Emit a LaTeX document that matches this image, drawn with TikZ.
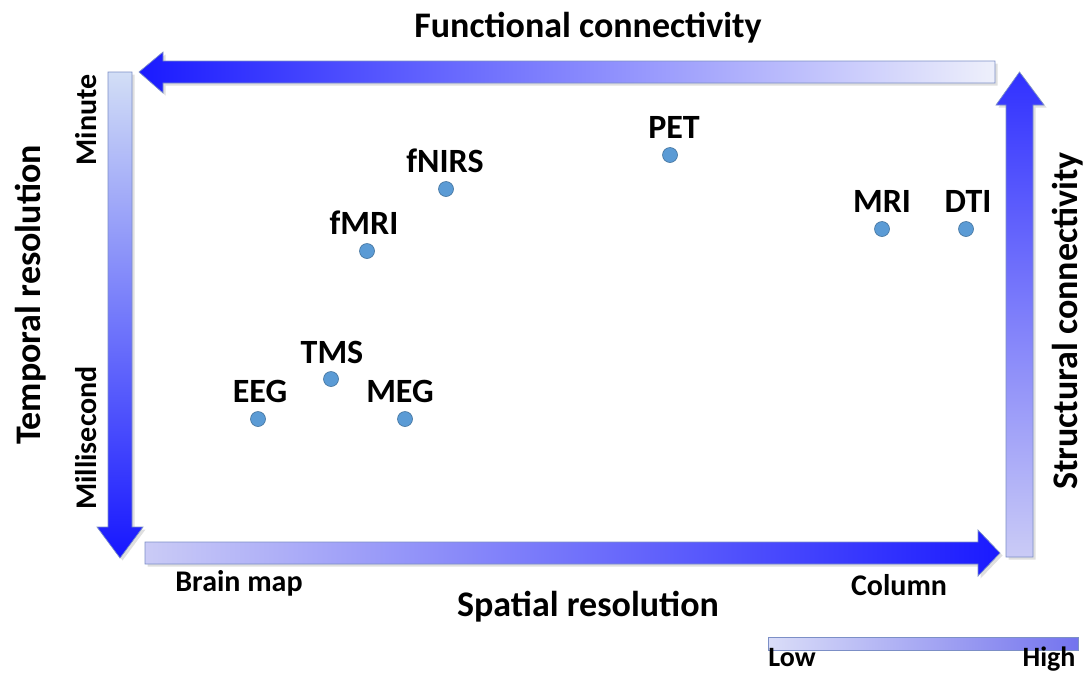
\documentclass[tikz,border=0pt]{standalone}
\usepackage{fontspec}
\setmainfont{Carlito}
\usetikzlibrary{shadows}

\definecolor{dotblue}{HTML}{5B9BD5}
\definecolor{dotedge}{HTML}{41719C}
\definecolor{deepblue}{HTML}{1A1AFF}
\definecolor{paleblue}{HTML}{EEF0FB}
\definecolor{lightblue}{HTML}{D2DEF6}
\definecolor{lavender}{HTML}{CACBF6}
\definecolor{edgeblue}{HTML}{7C8FC6}
\definecolor{legendlow}{HTML}{DADDF8}
\definecolor{legendhigh}{HTML}{7373EE}

\begin{document}
\begin{tikzpicture}[x=1pt,y=-1pt,
  dot/.style={circle, fill=dotblue, draw=dotedge, line width=0.6pt,
    minimum size=15pt, inner sep=0pt},
  tech/.style={font=\bfseries\fontsize{34}{34}\selectfont, inner sep=0pt, anchor=base},
  axislabel/.style={font=\bfseries\fontsize{36}{36}\selectfont, inner sep=0pt},
  endlabel/.style={font=\bfseries\fontsize{30}{30}\selectfont, inner sep=0pt},
  band/.style={draw=edgeblue, line width=0.7pt,
    drop shadow={opacity=0.25, shadow xshift=2.5pt, shadow yshift=-2.5pt}}
]
\useasboundingbox (0,0) rectangle (1086,673);

% functional connectivity: leftward band
\path[band, left color=deepblue, right color=paleblue]
  (995,61) -- (163,61) -- (163,52) -- (139,72) -- (163,93) -- (163,83)
  -- (995,83) -- cycle;

% temporal resolution: downward band
\path[band, top color=lightblue, bottom color=deepblue!85!blue]
  (108,72) -- (132,72) -- (132,527) -- (143,527) -- (120,558) -- (97,527)
  -- (108,527) -- cycle;

% spatial resolution: rightward band
\path[band, left color=lavender, right color=deepblue]
  (145,542) -- (978,542) -- (978,530) -- (1000,553) -- (978,576)
  -- (978,564) -- (145,564) -- cycle;

% structural connectivity: upward band
\path[band, top color=deepblue!90, bottom color=lavender]
  (1006,557) -- (1006,105) -- (996,105) -- (1019.5,72) -- (1044,105)
  -- (1033,105) -- (1033,557) -- cycle;

% axis titles
\node[axislabel] (functional) at (588,28) {Functional connectivity};
\node[axislabel] (spatial) at (588,607) {Spatial resolution};
\node[axislabel, rotate=90] (temporal) at (31,295) {Temporal resolution};
\node[axislabel, rotate=90] (structural) at (1068,321) {Structural connectivity};

% range ends
\node[endlabel, rotate=90] (minute) at (86,120) {Minute};
\node[endlabel, rotate=90] (millisecond) at (86,438) {Millisecond};
\node[endlabel, anchor=base] (brainmap) at (239,591) {Brain map};
\node[endlabel, anchor=base] (column) at (899,595) {Column};

% techniques
\node[dot] (pet) at (670,155) {};
\node[dot] (fnirs) at (446,189) {};
\node[dot] (fmri) at (367,251) {};
\node[dot] (mri) at (882,229) {};
\node[dot] (dti) at (966,229) {};
\node[dot] (tms) at (331,379) {};
\node[dot] (eeg) at (258,419) {};
\node[dot] (meg) at (405,419) {};

\node[tech] (pet-l) at (674,138) {PET};
\node[tech] (fnirs-l) at (445,172) {fNIRS};
\node[tech] (fmri-l) at (364,234) {fMRI};
\node[tech] (mri-l) at (882,212) {MRI};
\node[tech] (dti-l) at (968,212) {DTI};
\node[tech] (tms-l) at (332,363) {TMS};
\node[tech] (eeg-l) at (260,402) {EEG};
\node[tech] (meg-l) at (400,402) {MEG};

% legend
\path[draw=edgeblue, line width=0.6pt, left color=legendlow, right color=legendhigh]
  (768,637) rectangle (1078,650);
\node[endlabel, anchor=base, font=\bfseries\fontsize{28}{28}\selectfont] (low) at (792,666) {Low};
\node[endlabel, anchor=base, font=\bfseries\fontsize{28}{28}\selectfont] (high) at (1049,666) {High};
\end{tikzpicture}
\end{document}
